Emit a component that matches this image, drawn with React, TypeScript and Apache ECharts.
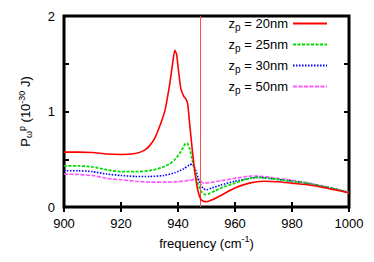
import React, { useEffect, useRef } from "react";
import * as echarts from "echarts";

const freq20 = [900, 905, 910, 915, 920, 925, 928, 930, 932, 934, 935.5, 937, 938, 938.9, 939.5, 940.2, 941, 942, 942.8, 943.4, 944, 945, 946, 947, 948, 949, 950, 952, 955, 958, 960, 965, 970, 975, 980, 985, 990, 995, 1000];
const val20 = [0.575, 0.575, 0.57, 0.555, 0.55, 0.56, 0.59, 0.64, 0.73, 0.88, 1.02, 1.27, 1.48, 1.64, 1.6, 1.42, 1.24, 1.16, 1.13, 1.08, 0.9, 0.6, 0.35, 0.17, 0.08, 0.06, 0.055, 0.075, 0.12, 0.17, 0.2, 0.25, 0.27, 0.265, 0.25, 0.235, 0.21, 0.18, 0.15];

const freq25 = [900, 905, 910, 915, 920, 925, 930, 934, 937, 939, 941, 942.5, 943.2, 944, 945, 946, 947, 948, 949.5, 951, 953, 956, 960, 965, 968, 972, 980, 985, 990, 995, 1000];
const val25 = [0.43, 0.43, 0.42, 0.39, 0.37, 0.37, 0.38, 0.41, 0.45, 0.5, 0.58, 0.66, 0.67, 0.62, 0.5, 0.36, 0.25, 0.17, 0.13, 0.14, 0.17, 0.21, 0.25, 0.3, 0.31, 0.3, 0.27, 0.25, 0.22, 0.19, 0.15];

const freq30 = [900, 905, 910, 915, 920, 925, 930, 935, 939, 942, 944, 945, 946, 947, 948, 949, 950, 952, 955, 960, 965, 968, 972, 980, 985, 990, 995, 1000];
const val30 = [0.38, 0.38, 0.37, 0.345, 0.33, 0.32, 0.32, 0.33, 0.36, 0.4, 0.44, 0.45, 0.4, 0.31, 0.23, 0.19, 0.18, 0.2, 0.23, 0.27, 0.3, 0.31, 0.3, 0.27, 0.25, 0.22, 0.19, 0.15];

const freq50 = [900, 905, 910, 915, 920, 925, 930, 935, 940, 944, 946, 947.5, 949, 951, 955, 960, 966, 970, 975, 980, 985, 990, 995, 1000];
const val50 = [0.345, 0.34, 0.33, 0.3, 0.285, 0.27, 0.26, 0.26, 0.265, 0.28, 0.29, 0.28, 0.25, 0.255, 0.275, 0.3, 0.325, 0.32, 0.3, 0.28, 0.255, 0.225, 0.19, 0.15];

const seriesNames = ["20nm", "25nm", "30nm", "50nm"];
const resonance = 947.7;

const zip = (xs: number[], ys: number[]) => xs.map((x, i) => [x, ys[i]]);

export default function App() {
  const ref = useRef<HTMLDivElement>(null);
  useEffect(() => {
    if (!ref.current) return;
    const chart = echarts.init(ref.current, undefined, { renderer: "svg" });
    const font = "Liberation Sans, Arial, sans-serif";
    const tickStyle = { show: true, inside: true, length: 5, lineStyle: { color: "#000", width: 2 } };
    chart.setOption({
      animation: false,
      textStyle: { fontFamily: font },
      grid: { left: 64, right: 25, top: 16, bottom: 55, show: true, borderColor: "#000", borderWidth: 3, containLabel: false },
      legend: {
        right: 41,
        top: 12,
        orient: "vertical",
        align: "right",
        itemWidth: 34,
        itemHeight: 14,
        itemGap: 5.5,
        data: seriesNames,
        itemStyle: { opacity: 0 },
        formatter: (n: string) => `{a|z}{s|p}{a| = ${n}}`,
        textStyle: {
          color: "#000",
          fontFamily: font,
          rich: {
            a: { fontSize: 13, fontFamily: font, color: "#000" },
            s: { fontSize: 10, fontFamily: font, color: "#000", padding: [8, 0, 0, 0] },
          },
        },
      },
      xAxis: [
        {
          type: "value",
          min: 900,
          max: 1000,
          interval: 20,
          axisLine: { show: false },
          axisTick: tickStyle,
          splitLine: { show: false },
          axisLabel: { color: "#000", fontSize: 13, fontFamily: font, margin: 10, formatter: (v: number) => String(v) },
          name: "{a|frequency (cm}{s|-1}{a|)}",
          nameLocation: "middle",
          nameGap: 22,
          nameTextStyle: {
            rich: {
              a: { fontSize: 13, fontFamily: font, color: "#000" },
              s: { fontSize: 9, fontFamily: font, color: "#000", padding: [0, 0, 8, 0] },
            },
          },
        },
        {
          type: "value",
          position: "top",
          min: 900,
          max: 1000,
          interval: 20,
          axisLine: { show: false },
          axisTick: tickStyle,
          splitLine: { show: false },
          axisLabel: { show: false },
        },
      ],
      yAxis: [
        {
          type: "value",
          min: 0,
          max: 2,
          interval: 0.5,
          axisLine: { show: false },
          axisTick: tickStyle,
          splitLine: { show: false },
          axisLabel: {
            color: "#000",
            fontSize: 13,
            fontFamily: font,
            margin: 9,
            formatter: (v: number) => (Number.isInteger(v) ? String(v) : ""),
          },
          name: "{a|P}{s|ω}{p|p}{a| (10}{p|-30}{a| J)}",
          nameLocation: "middle",
          nameGap: 30,
          nameTextStyle: {
            rich: {
              a: { fontSize: 13, fontFamily: font, color: "#000" },
              s: { fontSize: 9, fontFamily: font, color: "#000", padding: [7, 0, 0, 0] },
              p: { fontSize: 9, fontFamily: font, color: "#000", padding: [0, 0, 8, 0] },
            },
          },
        },
        {
          type: "value",
          position: "right",
          min: 0,
          max: 2,
          interval: 0.5,
          axisLine: { show: false },
          axisTick: tickStyle,
          splitLine: { show: false },
          axisLabel: { show: false },
        },
      ],
      series: [
        {
          name: "20nm",
          type: "line",
          data: zip(freq20, val20),
          showSymbol: false,
          symbol: "none",
          smooth: 0.2,
          lineStyle: { color: "#ff0000", width: 1.6, type: "solid" },
          itemStyle: { color: "#ff0000" },
          z: 5,
          markLine: {
            silent: true,
            symbol: "none",
            label: { show: false },
            lineStyle: { color: "#ff5050", width: 1, type: "solid" },
            data: [{ xAxis: resonance }],
          },
        },
        {
          name: "25nm",
          type: "line",
          data: zip(freq25, val25),
          showSymbol: false,
          symbol: "none",
          smooth: 0.2,
          lineStyle: { color: "#00e000", width: 1.8, type: [3, 1.5] },
          itemStyle: { color: "#00e000" },
          z: 4,
        },
        {
          name: "30nm",
          type: "line",
          data: zip(freq30, val30),
          showSymbol: false,
          symbol: "none",
          smooth: 0.2,
          lineStyle: { color: "#0000ff", width: 1.6, type: [1.5, 1.5] },
          itemStyle: { color: "#0000ff" },
          z: 3,
        },
        {
          name: "50nm",
          type: "line",
          data: zip(freq50, val50),
          showSymbol: false,
          symbol: "none",
          smooth: 0.2,
          lineStyle: { color: "#ff55ff", width: 1.6, type: [4, 1.5] },
          itemStyle: { color: "#ff55ff" },
          z: 2,
        },
      ],
    });
    return () => chart.dispose();
  }, []);
  return <div ref={ref} style={{ width: 374, height: 262, position: "absolute", left: 0, top: 0 }} />;
}
